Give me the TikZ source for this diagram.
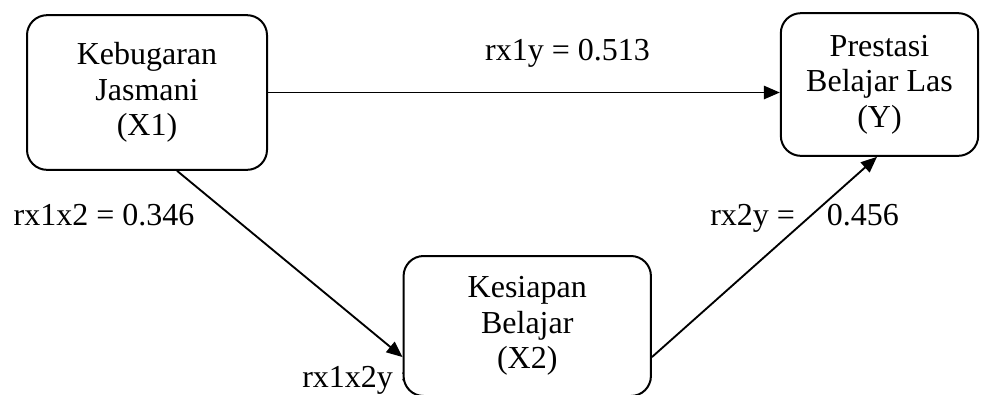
\documentclass[tikz,border=0pt]{standalone}
\usepackage{fontspec}
\setmainfont{Liberation Serif}
\usetikzlibrary{arrows.meta}

\begin{document}
\begin{tikzpicture}[x=0.75pt, y=-0.75pt,
    every node/.style={font=\fontsize{24}{26.5}\selectfont},
    varbox/.style={draw, fill=white, line width=1.5pt, rounded corners=15pt, align=center, inner sep=0pt},
    coef/.style={inner sep=0pt},
    link/.style={-{Triangle[length=12pt,width=10pt]}, line width=1.4pt}]
    \useasboundingbox (0, 0) rectangle (981, 394);

    % label partly hidden behind the X2 box
    \node[coef, anchor=base west] (r12y) at (302, 387) {rx1x2y =};

    %%%%%%%%%%%%%%%%%%%%%%%%%%%%%%%%%%%%%%%%%%%%%%%%%%%%%%

    \node[varbox, minimum width=180pt, minimum height=116pt] (kebug) at (147, 92.5) {Kebugaran\\Jasmani\\(X1)};
    \node[varbox, minimum width=148pt, minimum height=107pt] (prest) at (879.5, 84.5) {Prestasi\\Belajar Las\\(Y)};
    \node[varbox, minimum width=185.5pt, minimum height=105pt] (kesiap) at (527.25, 326) {Kesiapan\\Belajar\\(X2)};

    %%%%%%%%%%%%%%%%%%%%%%%%%%%%%%%%%%%%%%%%%%%%%%%%%%%%%%

    \draw[link] (kebug.east) -- (prest.west |- kebug.east);
    \draw[link] (kebug.-69) -- (kesiap.194.5);
    \draw[link] (kesiap.-14.1) -- (prest.-92);

    %%%%%%%%%%%%%%%%%%%%%%%%%%%%%%%%%%%%%%%%%%%%%%%%%%%%%%

    \node[coef, anchor=base] (r1y) at (567.5, 60) {rx1y = 0.513};
    \node[coef, anchor=base] (r12) at (104, 225) {rx1x2 = 0.346};
    \node[coef, anchor=base west] (r2y) at (710, 225) {rx2y = \hspace{18pt}0.456};
\end{tikzpicture}
\end{document}
